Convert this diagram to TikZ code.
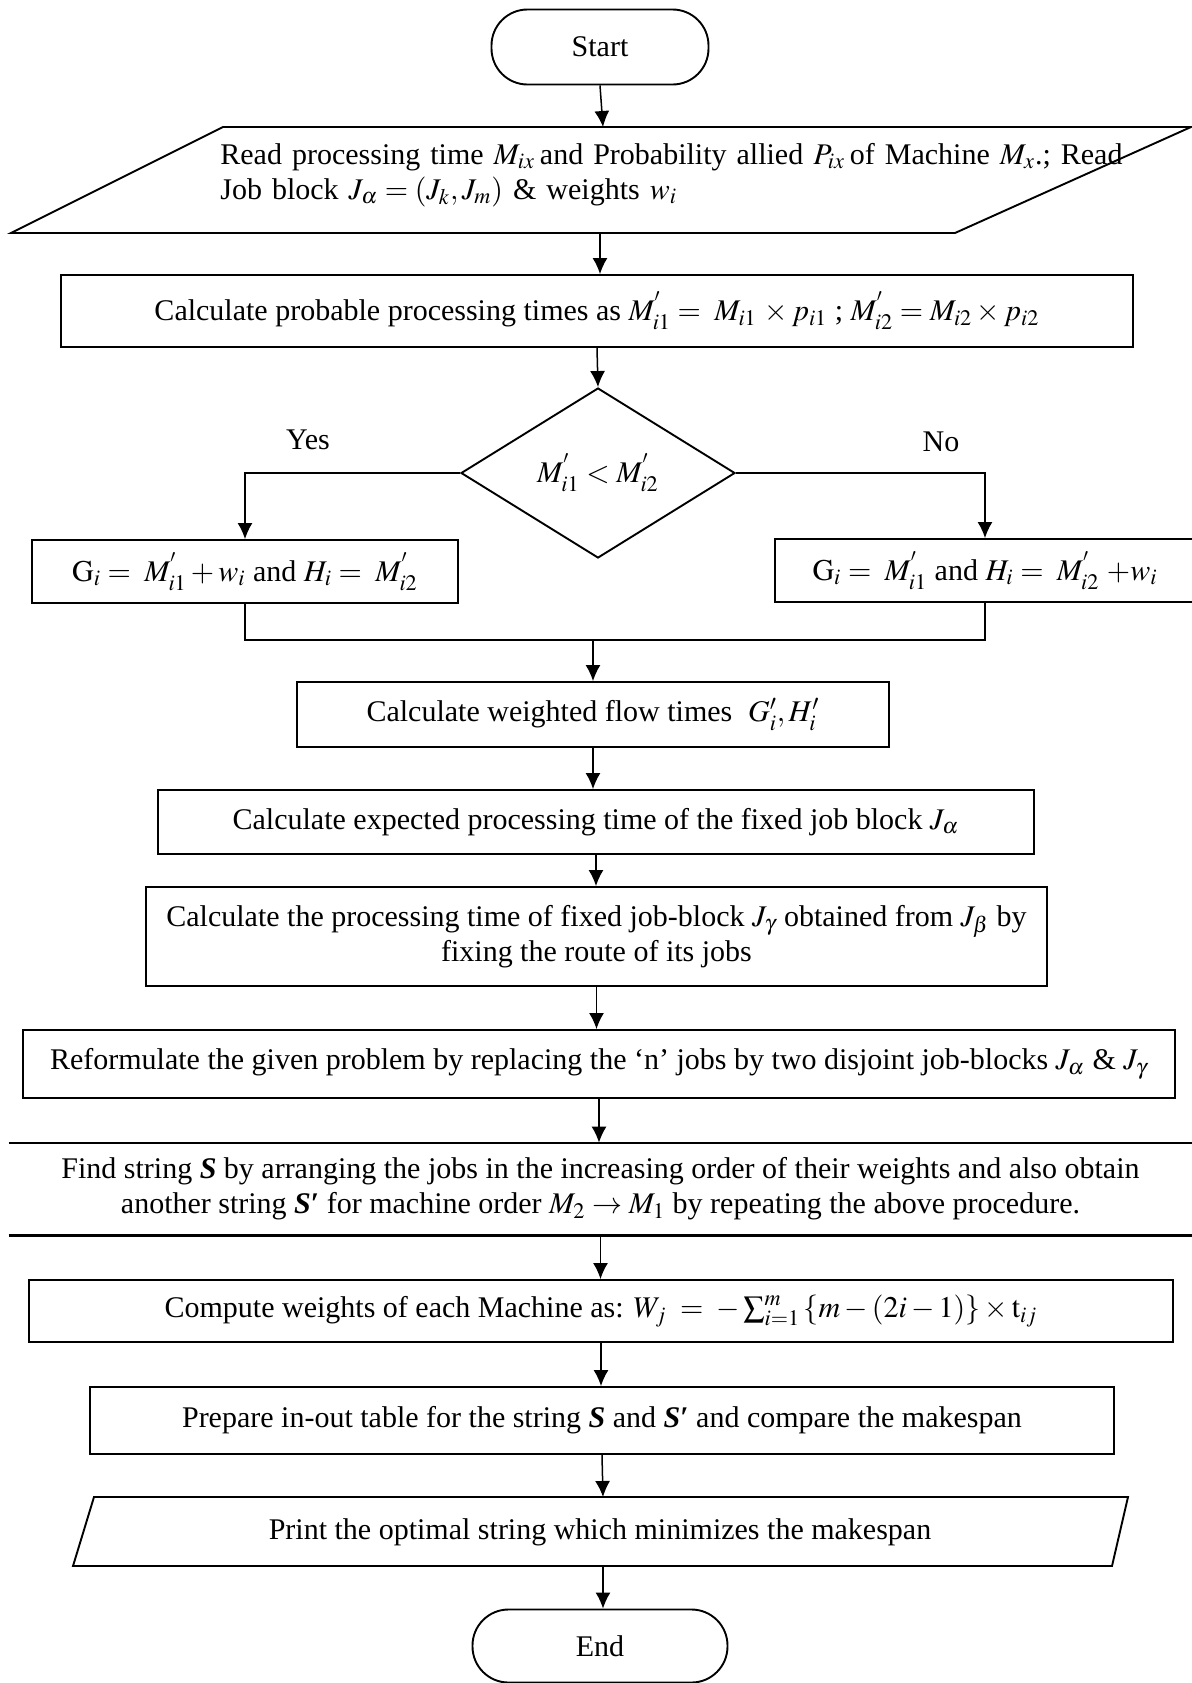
\documentclass[tikz,border=0pt]{standalone}
\usepackage{mathptmx}
\usepackage[no-math]{fontspec}
\setmainfont{Liberation Serif}
\usepackage{tikz}
\usetikzlibrary{shapes.geometric,arrows.meta,positioning,calc}

\begin{document}
\begin{tikzpicture}[
    x=0.5pt, y=-0.5pt,
    font=\fontsize{15}{17.5}\selectfont,
    block/.style={rectangle, draw, line width=0.95pt, align=center, inner sep=2pt},
    term/.style={rectangle, rounded corners=18pt, draw, line width=0.95pt},
    decide/.style={diamond, draw, line width=0.95pt, minimum width=137pt, minimum height=85pt, inner sep=0pt},
    arr/.style={-{Latex[length=8pt,width=7.5pt]}, line width=0.75pt},
    wire/.style={line width=0.75pt},
]
    \useasboundingbox (0,0) rectangle (1192,1683);

    \node[term, minimum width=108.5pt, minimum height=37.5pt] (start) at (600,47) {Start};

    % input parallelogram
    \draw[line width=0.95pt] (223,127) -- (1191,127) -- (955,233) -- (11,233) -- cycle;
    \node[anchor=west, text width=460pt, align=left, inner sep=0pt] (read) at (220,175)
        {Read processing time $M_{ix}$\,and Probability allied $P_{ix}$\,of Machine $M_{x}$.; Read\\
         Job block $J_\alpha = (J_k, J_m)$ \& weights $w_i$};
    \coordinate (readtop) at (603,127);
    \coordinate (readbot) at (600,233);

    \node[block, minimum width=536pt, minimum height=36pt] (prob) at (597,311)
        {Calculate probable processing times as $M^{'}_{i1} =\; M_{i1}\, \times p_{i1}$ ; $M^{'}_{i2} = M_{i2} \times p_{i2}$};

    \node[decide] (dec) at (598,473) {$M^{'}_{i1} < M^{'}_{i2}$};

    \node[block, minimum width=213pt, minimum height=31.5pt] (yesbox) at (245,571.5)
        {$\mathrm{G}_i =\; M^{'}_{i1} + w_i$ and $H_i =\; M^{'}_{i2}$};
    \node[block, minimum width=210pt, minimum height=31.5pt] (nobox) at (985,570.5)
        {$\mathrm{G}_i =\; M^{'}_{i1}$ and $H_i =\; M^{'}_{i2}$ $+w_i$};

    \node (yes) at (308,440) {Yes};
    \node (no) at (941,442) {No};

    \coordinate (join) at (593,640);

    \node[block, minimum width=296pt, minimum height=32.5pt] (flow) at (593,714.5)
        {Calculate weighted flow times \;$G'_i, H'_i$};
    \node[block, minimum width=438pt, minimum height=32pt] (expect) at (596,822)
        {Calculate expected processing time of the fixed job block $J_{\alpha}$};
    \node[block, minimum width=450.5pt, minimum height=49.5pt] (calc) at (596.5,936.5)
        {Calculate the processing time of fixed job-block $J_{\gamma}$ obtained from $J_{\beta}$ by\\
         fixing the route of its jobs};
    \node[block, minimum width=576pt, minimum height=34pt] (reform) at (599,1064)
        {Reformulate the given problem by replacing the ‘n’ jobs by two disjoint job-blocks $J_{\alpha}$ \& $J_{\gamma}$};

    % only top and bottom rules
    \node[align=center, minimum width=591.5pt, minimum height=46pt, inner sep=0pt] (find) at (600.5,1189)
        {Find string \textbf{\textit{S}} by arranging the jobs in the increasing order of their weights and also obtain\\
         another string \textbf{\textit{S}}\textbf{′} for machine order $M_2 \rightarrow M_1$ by repeating the above procedure.};
    \draw[line width=1.1pt] (find.north west) -- (find.north east);
    \draw[line width=1.1pt] (find.south west) -- (find.south east);

    \node[block, minimum width=572pt, minimum height=31pt] (compute) at (601,1311)
        {Compute weights of each Machine as: $W_j \;=\; -\textstyle\sum_{i=1}^{m}\,\{m-(2i-1)\}\times \mathrm{t}_{ij}$};
    \node[block, minimum width=512pt, minimum height=33.5pt] (prep) at (602,1420.5)
        {Prepare in-out table for the string \textbf{\textit{S}} and \textbf{\textit{S}}\textbf{′} and compare the makespan};

    % output parallelogram
    \draw[line width=0.95pt] (94,1497) -- (1128,1497) -- (1112,1566) -- (73,1566) -- cycle;
    \node (print) at (600,1532) {Print the optimal string which minimizes the makespan};
    \coordinate (printtop) at (603,1497);
    \coordinate (printbot) at (603,1566);

    \node[term, minimum width=127.5pt, minimum height=36.5pt] (end) at (600,1646) {End};

    % connectors
    \draw[arr] (start.south) -- (readtop);
    \draw[arr] (readbot) -- (readbot |- prob.north);
    \draw[arr] (prob.south) -- (dec.north);
    \draw[arr] (dec.west) -| (yesbox.north);
    \draw[arr] (dec.east) -| (nobox.north);
    \draw[wire] (yesbox.south) |- (join) -| (nobox.south);
    \draw[arr] (join) -- (flow.north);
    \foreach \a/\b in {flow/expect, expect/calc, calc/reform, reform/find, find/compute, compute/prep}
        \draw[arr] (\a.south) -- (\a.south |- \b.north);
    \draw[arr] (prep.south) -- (printtop);
    \draw[arr] (printbot) -- (printbot |- end.north);
\end{tikzpicture}
\end{document}
